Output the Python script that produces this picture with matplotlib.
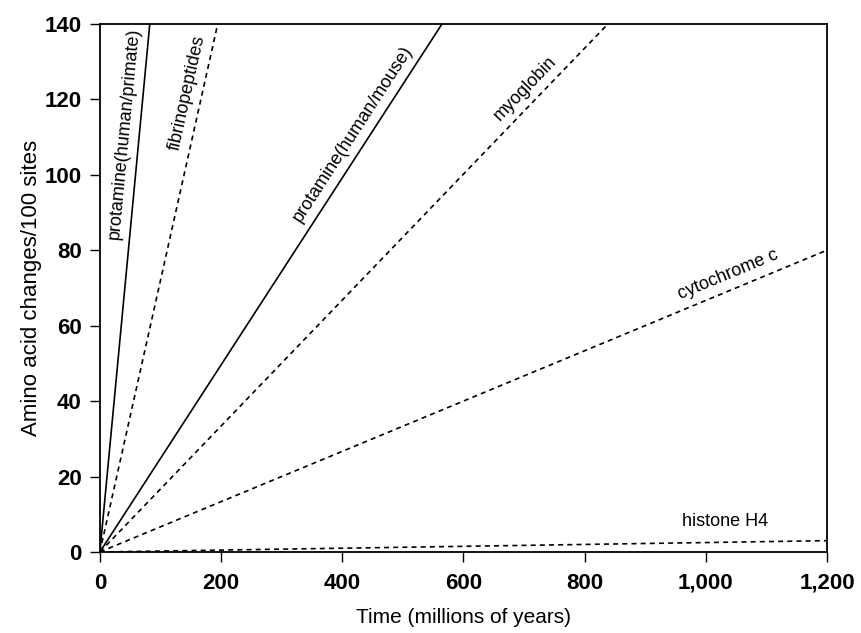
import numpy as np
import matplotlib
matplotlib.use("Agg")
import matplotlib.pyplot as plt

plt.rcParams['font.family'] = ['Liberation Sans', 'DejaVu Sans']

# proteins, rate (amino acid changes/100 sites per My), line style
names = ["protamine(human/primate)", "fibrinopeptides", "protamine(human/mouse)",
         "myoglobin", "cytochrome c", "histone H4"]
rates = [1.70, 0.72, 0.248, 0.167, 0.0667, 0.0025]
styles = ["-", "--", "-", "--", "--", "--"]
# x where each label sits on its line
label_x = [65, 168, 438, 720, 1046]
histone_pos = (1031, 8.2)

x_max = 1200
y_max = 140

fig = plt.figure(figsize=(8.61, 6.33), dpi=100)
ax = fig.add_axes([0.116, 0.128, 0.8445, 0.834])
ax.set_xlim(0, x_max)
ax.set_ylim(0, y_max)

t = np.array([0, x_max])
for i, (name, r, ls) in enumerate(zip(names, rates, styles)):
    if ls == "--":
        ax.plot(t, r * t, color='black', linestyle=ls, linewidth=1.2, dashes=(3, 2.5))
    else:
        ax.plot(t, r * t, color='black', linestyle=ls, linewidth=1.2)
    if i < len(label_x):
        lx = label_x[i]
        p0 = ax.transData.transform((0, 0))
        p1 = ax.transData.transform((1, r))
        ang = np.arctan2(p1[1] - p0[1], p1[0] - p0[0])
        d = 10.8  # points away from the line
        ax.annotate(name, (lx, r * lx), xytext=(-np.sin(ang) * d, np.cos(ang) * d),
                    textcoords='offset points', rotation=np.degrees(ang),
                    rotation_mode='anchor', ha='center', va='center', fontsize=13)
    else:
        ax.text(histone_pos[0], histone_pos[1], name, ha='center', va='center', fontsize=13)

ax.set_xticks(range(0, 1201, 200))
ax.set_xticklabels(["0", "200", "400", "600", "800", "1,000", "1,200"])
ax.set_yticks(range(0, 141, 20))
ax.tick_params(direction='out', length=7, labelsize=16, width=1)
ax.tick_params(axis='x', pad=8)
ax.tick_params(axis='y', pad=6)
for lab in ax.get_yticklabels() + ax.get_xticklabels():
    lab.set_fontweight('bold')
for s in ax.spines.values():
    s.set_linewidth(1.3)
ax.set_xlabel("Time (millions of years)", fontsize=15, labelpad=10)
ax.set_ylabel("Amino acid changes/100 sites", fontsize=16, labelpad=2)

fig.savefig("out.png", dpi=100)
